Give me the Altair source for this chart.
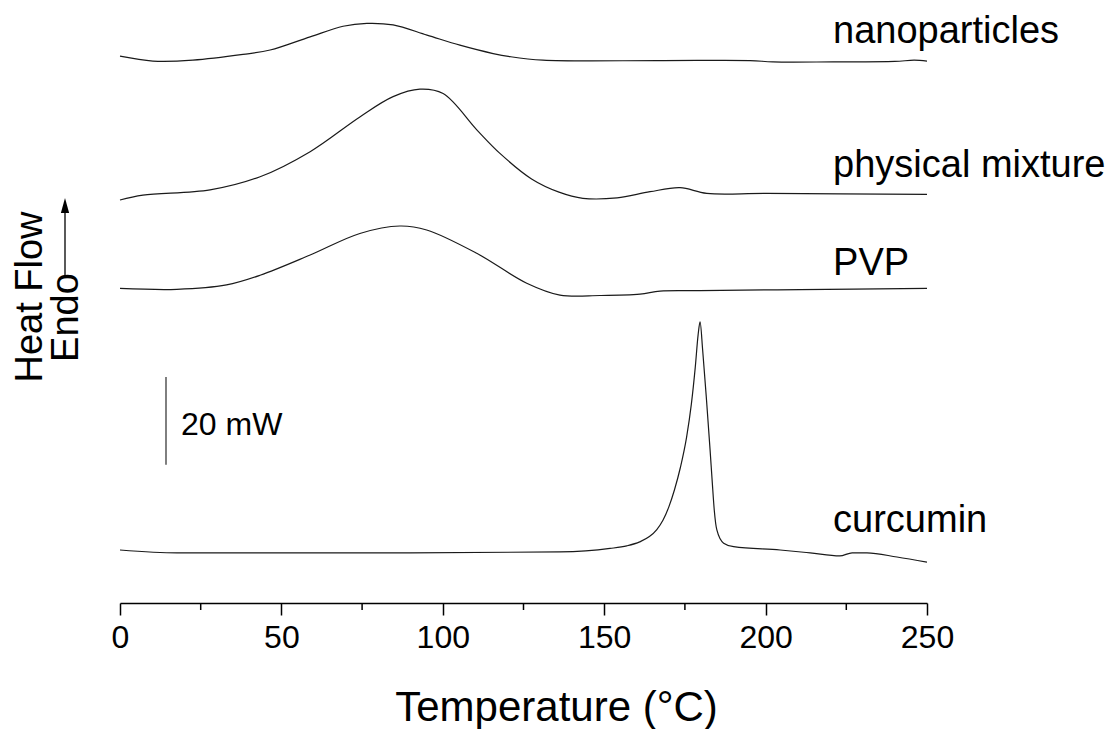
import altair as alt
import pandas as pd

FONT = "Liberation Sans"

# ---- data (Temperature in °C, heat flow in mW, offset stacked) ----
nano_T = [0, 10.2, 22.6, 38.1, 46.5, 58.9, 69.1, 76.5, 84.6, 95.1, 105.3, 115.6, 120.8,
          131.0, 167.3, 195.2, 202.3, 220.9, 240.0, 246.0, 250]
nano_mW = [124.3, 123.2, 123.4, 124.7, 125.7, 128.7, 131.1, 131.75, 131.4, 129.1, 126.8, 124.9, 124.2,
           123.4, 123.3, 123.3, 123.0, 123.0, 123.1, 123.4, 123.2]

mix_T = [0, 7.1, 27.9, 43.4, 58.9, 74.3, 84.6, 92.9, 100.1, 110.6, 117.7, 127.5, 136.0, 143.4,
         154.0, 164.2, 173.5, 181.8, 200.4, 250]
mix_mW = [91.6, 92.7, 93.9, 96.9, 102.6, 110.5, 115.1, 116.8, 115.8, 107.5, 102.2, 96.4, 93.4, 92.0,
          92.1, 93.5, 94.4, 93.1, 93.1, 92.9]

pvp_T = [0, 17.6, 33.0, 43.4, 58.9, 74.3, 86.7, 95.0, 110.5, 126.0, 136.3, 148.7, 161.1,
         167.3, 179.7, 210.7, 250]
pvp_mW = [71.5, 71.3, 72.3, 74.5, 79.1, 84.0, 85.7, 84.8, 79.5, 72.7, 70.0, 69.9, 70.2,
          70.9, 71.0, 71.25, 71.5]

curc_T = [0, 17.7, 89.8, 136.3, 151.8, 157.0, 161.0, 164.0, 166.3, 168.2, 170.0, 171.8, 173.6,
          175.5, 177.0, 178.2, 179.1, 179.7, 180.5, 181.7, 182.8, 183.5, 184.1, 184.9, 187.0,
          190.1, 204.5, 213.8, 223.0, 226.8, 231.4, 240.7, 250]
curc_mW = [12.05, 11.4, 11.4, 11.6, 12.4, 13.0, 13.9, 15.1, 16.7, 18.8, 21.8, 25.8, 30.8,
           37.6, 45.2, 53.5, 61.0, 63.9, 57.5, 46.1, 34.8, 27.2, 21.1, 16.6, 13.6,
           12.8, 12.05, 11.4, 10.7, 11.4, 11.4, 10.45, 9.3]

label_names = ["nanoparticles", "physical mixture", "PVP", "curcumin"]
label_T = [220.9, 220.9, 220.9, 220.9]
label_mW = [127.3, 96.8, 74.5, 16.1]

scalebar_T = [14.25]
scalebar_low = [31.4]
scalebar_high = [51.4]
scalebar_text = ["20 mW"]
scalebar_text_T = [18.9]
scalebar_text_mW = [38.2]

major_ticks = [0, 50, 100, 150, 200, 250]
minor_ticks = [25, 75, 125, 175, 225]

# ---- tables ----
broad = pd.concat([
    pd.DataFrame({"T": nano_T, "mW": nano_mW, "series": "nanoparticles"}),
    pd.DataFrame({"T": mix_T, "mW": mix_mW, "series": "physical mixture"}),
    pd.DataFrame({"T": pvp_T, "mW": pvp_mW, "series": "PVP"}),
], ignore_index=True)
curc = pd.DataFrame({"T": curc_T, "mW": curc_mW, "series": "curcumin"})
labels = pd.DataFrame({"name": label_names, "T": label_T, "mW": label_mW})
bar = pd.DataFrame({"T": scalebar_T, "lo": scalebar_low, "hi": scalebar_high})
bar_lab = pd.DataFrame({"t": scalebar_text, "T": scalebar_text_T, "mW": scalebar_text_mW})
minor = pd.DataFrame({"T": minor_ticks})
one = pd.DataFrame({"k": [0]})

xs = alt.Scale(domain=[0, 250], nice=False, zero=False)
ys = alt.Scale(domain=[0, 134.8], nice=False, zero=False)
xaxis = alt.Axis(
    values=major_ticks, format="d", title="Temperature (°C)",
    titleFont=FONT, titleFontSize=42, titleFontWeight="normal", titleColor="black",
    titleX=436, titleY=117, titleBaseline="alphabetic", titleAlign="center",
    labelFont=FONT, labelFontSize=32, labelColor="black", labelPadding=7,
    labelFlush=False, labelOverlap=False,
    tickSize=12, tickColor="black", tickWidth=1.5,
    domainColor="black", domainWidth=1.5, grid=False)


def X(field="T"):
    return alt.X(f"{field}:Q", scale=xs, axis=xaxis, title="Temperature (°C)")


def Y(field="mW"):
    return alt.Y(f"{field}:Q", scale=ys, axis=None)


lines = alt.Chart(broad).mark_line(
    interpolate="catmull-rom", color="#1a1a1a", strokeWidth=1.2
).encode(x=X(), y=Y(), detail="series:N")

curc_line = alt.Chart(curc).mark_line(
    interpolate="monotone", color="#1a1a1a", strokeWidth=1.2
).encode(x=X(), y=Y(), detail="series:N")

minor_rules = alt.Chart(minor).mark_rule(color="black", strokeWidth=1.5).encode(
    x=X(), y=alt.value(593), y2=alt.value(600),
)

series_text = alt.Chart(labels).mark_text(
    align="left", baseline="alphabetic", font=FONT, fontSize=38, color="black"
).encode(x=X(), y=Y(), text="name:N")

bar_rule = alt.Chart(bar).mark_rule(color="#555555", strokeWidth=1.5).encode(
    x=X(), y=Y("lo"), y2="hi:Q",
)

bar_text = alt.Chart(bar_lab).mark_text(
    align="left", baseline="alphabetic", font=FONT, fontSize=32, color="black"
).encode(x=X(), y=Y(), text="t:N")

heat_text = alt.Chart(one).mark_text(
    angle=270, align="center", baseline="alphabetic", font=FONT, fontSize=38, color="black"
).encode(x=alt.value(-78), y=alt.value(287), text=alt.value("Heat Flow"))

endo_text = alt.Chart(one).mark_text(
    angle=270, align="center", baseline="alphabetic", font=FONT, fontSize=38, color="black"
).encode(x=alt.value(-42), y=alt.value(307.5), text=alt.value("Endo"))

arrow_line = alt.Chart(one).mark_rule(color="black", strokeWidth=1.3).encode(
    x=alt.value(-55), y=alt.value(267), y2=alt.value(198)
)
arrow_head = alt.Chart(one).mark_point(
    shape="M0,-1L0.55,1L-0.55,1Z", filled=True, color="black", opacity=1, size=225, strokeWidth=0
).encode(x=alt.value(-55), y=alt.value(195.5))

chart = alt.layer(
    lines, curc_line, minor_rules, series_text, bar_rule, bar_text,
    heat_text, endo_text, arrow_line, arrow_head
).properties(
    width=807, height=593,
    background="white",
    autosize=alt.AutoSizeParams(type="none"),
    padding={"left": 112, "top": 2, "right": 178, "bottom": 126},
).configure_view(strokeWidth=0, stroke=None)

chart.save("out.html", embed_options={"renderer": "svg", "actions": False})
